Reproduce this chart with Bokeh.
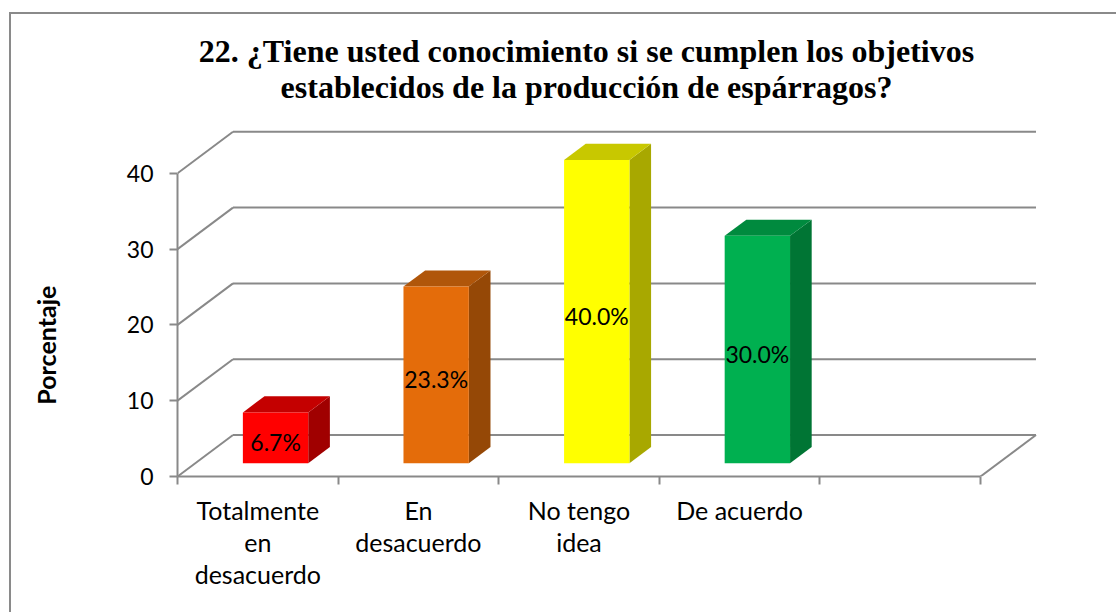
import math
from bokeh.plotting import figure
from bokeh.models import Range1d, FixedTicker, LinearAxis
from bokeh.layouts import row
from bokeh.embed import file_html
from bokeh.resources import INLINE
from bokeh.core.properties import value

# ---------------- data ----------------
categories = ["Totalmente\nen\ndesacuerdo", "En\ndesacuerdo", "No tengo\nidea", "De acuerdo"]
percentages = [6.7, 23.3, 40.0, 30.0]
value_labels = ["6.7%", "23.3%", "40.0%", "30.0%"]
front_colors = ["#FF0000", "#E46C0A", "#FFFF00", "#00B050"]
top_colors = ["#C40000", "#B0560A", "#C8C800", "#008A3E"]
side_colors = ["#A00000", "#954806", "#A8A800", "#007534"]
y_ticks = [0, 10, 20, 30, 40]
n_slots = 5
title_text = "22. ¿Tiene usted conocimiento si se cumplen los objetivos\nestablecidos de la producción de espárragos?"
y_label = "Porcentaje"

# ---------------- geometry (pixels) ----------------
H = 598
LW = 60                     # width of the strip holding the vertical axis title
W = 1105 - LW               # main chart width
FRAME_LEFT = 166 - LW
FRAME_BOTTOM = 462
RIGHT_PAD = 16
SLOT_PX = 160.6
UNIT_PX = 7.58
DX = 55.5 / SLOT_PX        # depth offset in x data units
DY = 41.5 / UNIT_PX        # depth offset in y data units
BAR_W = 0.407
D0, D1 = 0.32, 0.71        # bar front / back depth fractions

GRID = "#898989"
FONT = "Lato"

# ---------------- vertical axis title strip ----------------
lab = figure(width=LW, height=H, x_range=Range1d(0, LW), y_range=Range1d(0, H),
             output_backend="svg", toolbar_location=None,
             x_axis_type=None, y_axis_type=None,
             min_border_left=0, min_border_right=0, min_border_top=0, min_border_bottom=0)
lab.outline_line_color = None
lab.grid.visible = False
lab.text([34], [H - 428], text=[y_label], angle=math.pi / 2, text_font=value(FONT),
         text_font_style="bold", text_font_size="25px", text_align="center",
         text_baseline="middle", text_color="black")

# ---------------- main chart ----------------
x_end = (W - FRAME_LEFT - RIGHT_PAD) / SLOT_PX
y_end = FRAME_BOTTOM / UNIT_PX

p = figure(width=W, height=H, x_range=Range1d(0, x_end), y_range=Range1d(0, y_end),
           output_backend="svg", toolbar_location=None,
           x_axis_type=None, y_axis_type=None,
           min_border_left=FRAME_LEFT, min_border_right=RIGHT_PAD,
           min_border_top=0, min_border_bottom=H - FRAME_BOTTOM)
p.outline_line_color = None
p.background_fill_color = "white"
p.border_fill_color = "white"

# walls / gridlines
xs, ys = [], []
top = max(y_ticks)
for t in y_ticks:
    xs.append([DX, n_slots + DX]); ys.append([t + DY, t + DY])   # back wall
    xs.append([0, DX]); ys.append([t, t + DY])                   # left wall
xs.append([n_slots, n_slots + DX]); ys.append([0, DY])           # floor right edge
p.multi_line(xs, ys, line_color=GRID, line_width=2)

# bars
front_x, front_y, top_x, top_y, side_x, side_y = [], [], [], [], [], []
for i, v in enumerate(percentages):
    xl = i + 0.5 - BAR_W / 2
    xr = i + 0.5 + BAR_W / 2
    f = (D0 * DX, D0 * DY)
    b = (D1 * DX, D1 * DY)
    front_x.append([xl + f[0], xr + f[0], xr + f[0], xl + f[0]])
    front_y.append([f[1], f[1], v + f[1], v + f[1]])
    top_x.append([xl + f[0], xr + f[0], xr + b[0], xl + b[0]])
    top_y.append([v + f[1], v + f[1], v + b[1], v + b[1]])
    side_x.append([xr + f[0], xr + b[0], xr + b[0], xr + f[0]])
    side_y.append([f[1], b[1], v + b[1], v + f[1]])

p.patches(side_x, side_y, fill_color=side_colors, line_color=None)
p.patches(top_x, top_y, fill_color=top_colors, line_color=None)
p.patches(front_x, front_y, fill_color=front_colors, line_color=None)

lab_x = [i + 0.5 + D0 * DX for i in range(len(percentages))]
lab_y = [v / 2 + D0 * DY for v in percentages]
p.text(lab_x, lab_y, text=value_labels, text_font=value(FONT), text_font_size="23px",
       text_align="center", text_baseline="middle", text_color="black", y_offset=4)

# title
title_x = (575 - LW - FRAME_LEFT) / SLOT_PX
title_y = (FRAME_BOTTOM - 18) / UNIT_PX
p.text([title_x], [title_y], text=[title_text], text_font=value("Liberation Serif"),
       text_font_style="bold", text_font_size="32px", text_align="center",
       text_baseline="top", text_line_height=1.0, text_color="black")

# axes
yaxis = LinearAxis(ticker=FixedTicker(ticks=y_ticks, minor_ticks=[]), bounds=(0, top),
                   axis_line_color=GRID, axis_line_width=2,
                   major_tick_line_color=GRID, major_tick_line_width=2,
                   major_tick_out=8, major_tick_in=0, minor_tick_out=0, minor_tick_in=0,
                   major_label_text_font=FONT, major_label_text_font_size="23px",
                   major_label_text_color="black", major_label_standoff=16)
p.add_layout(yaxis, "left")

centers = [i + 0.5 for i in range(len(categories))]
xaxis = LinearAxis(ticker=FixedTicker(ticks=centers, minor_ticks=list(range(n_slots + 1))),
                   bounds=(0, n_slots),
                   axis_line_color=GRID, axis_line_width=2,
                   major_tick_out=0, major_tick_in=0,
                   minor_tick_line_color=GRID, minor_tick_line_width=2,
                   minor_tick_out=8, minor_tick_in=0,
                   major_label_overrides={c: t for c, t in zip(centers, categories)},
                   major_label_text_font=FONT, major_label_text_font_size="25px",
                   major_label_text_color="black", major_label_standoff=10,
                   major_label_text_line_height=1.08)
p.add_layout(xaxis, "below")

layout = row(lab, p, spacing=0,
             styles={"margin-left": "9px", "margin-top": "12px",
                     "border-left": "2px solid #8a8a8a", "border-top": "2px solid #8a8a8a"})

open("out.html", "w").write(file_html(layout, INLINE))
